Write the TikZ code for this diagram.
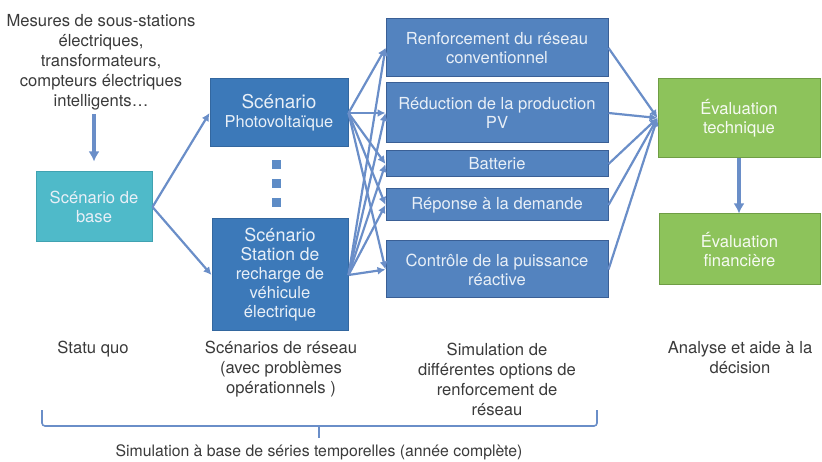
\documentclass[tikz,border=0pt]{standalone}
\usepackage{fontspec}
\setmainfont{TeX Gyre Heros}
\usetikzlibrary{arrows.meta}
\definecolor{scenfill}{HTML}{3C79B9}
\definecolor{scendraw}{HTML}{33679F}
\definecolor{optfill}{HTML}{5383BF}
\definecolor{optdraw}{HTML}{3A5F95}
\definecolor{basefill}{HTML}{4FBAC9}
\definecolor{basedraw}{HTML}{40A2B1}
\definecolor{greenfill}{HTML}{8DC35B}
\definecolor{greendraw}{HTML}{6F9D45}
\definecolor{boxtext}{HTML}{E8EFF7}
\definecolor{linec}{HTML}{6A8EC8}
\definecolor{dotc}{HTML}{5E8CC6}
\definecolor{labeltext}{HTML}{3A3A3A}
\begin{document}
\begin{tikzpicture}[x=1pt,y=-1pt,
  box/.style={line width=1pt, text=boxtext, align=center, inner sep=0pt, font=\fontsize{16.6}{19}\selectfont},
  scen/.style={box, fill=scenfill, draw=scendraw},
  opt/.style={box, fill=optfill, draw=optdraw, minimum width=222pt},
  basebox/.style={box, fill=basefill, draw=basedraw},
  evalbox/.style={box, fill=greenfill, draw=greendraw, text=white!92!greenfill},
  conn/.style={draw=linec, line width=2.2pt, -{Latex[length=8pt,width=8pt]}},
  thickarrow/.style={draw=linec, line width=3.5pt, -{Latex[length=10pt,width=11pt]}},
  lbl/.style={text=labeltext, align=center, inner sep=0pt, font=\fontsize{16.6}{20}\selectfont},
  dotsq/.style={fill=dotc, minimum size=9pt, inner sep=0pt}
]
\useasboundingbox (0,0) rectangle (822,462);

% top text
\node[lbl, anchor=north] (meas) at (101,14) {Mesures de sous-stations\\électriques,\\transformateurs,\\compteurs électriques\\intelligents\ldots};

% boxes
\node[basebox, minimum width=116pt, minimum height=70pt] (base) at (94,207) {Scénario de\\base};
\node[scen, minimum width=138pt, minimum height=68pt] (pv) at (279,113)
  {\fontsize{19}{22}\selectfont Scénario\\\fontsize{16.4}{20}\selectfont Photovoltaïque};
\node[scen, minimum width=136pt, minimum height=112pt] (ev) at (280,275)
  {\fontsize{18}{17.5}\selectfont Scénario\\\fontsize{17.5}{17.5}\selectfont Station de\\recharge de\\véhicule\\électrique};

\node[dotsq] (d1) at (276,165) {};
\node[dotsq] (d2) at (276,184) {};
\node[dotsq] (d3) at (276,203) {};

\node[opt, minimum height=58pt] (r1) at (497,48) {Renforcement du réseau\\conventionnel};
\node[opt, minimum height=60pt] (r2) at (497,113) {Réduction de la production\\PV};
\node[opt, minimum height=26pt] (r3) at (497,164) {Batterie};
\node[opt, minimum height=32pt] (r4) at (497,205) {Réponse à la demande};
\node[opt, minimum height=57pt] (r5) at (497,269.5) {Contrôle de la puissance\\réactive};

\node[evalbox, minimum width=162pt, minimum height=79pt] (tech) at (739,118) {Évaluation\\technique};
\node[evalbox, minimum width=161pt, minimum height=71pt] (fin) at (739.5,249.5) {Évaluation\\financière};

% connectors
\draw[thickarrow, shorten <=4pt, shorten >=10pt] (meas.south -| base.north) -- (base.north);
\draw[conn] (base.east) -- (pv.west);
\draw[conn] (base.east) -- (ev.west);
\foreach \t in {r1,r2,r3,r4,r5} {
  \draw[conn] (pv.east) -- (\t.west);
  \draw[conn] (ev.east) -- (\t.west);
  \draw[conn] (\t.east) -- (tech.west);
}
\draw[thickarrow] (tech.south) -- (tech.south |- fin.north);

% bottom labels
\node[lbl, anchor=north] (l1) at (93,341) {Statu quo};
\node[lbl, anchor=north] (l2) at (281,341) {Scénarios de réseau\\(avec problèmes\\opérationnels )};
\node[lbl, anchor=north] (l3) at (497,343) {Simulation de\\différentes options de\\renforcement de\\réseau};
\node[lbl, anchor=north] (l4) at (740,341) {Analyse et aide à la\\décision};

% brace
\coordinate (bl) at (42,410);
\coordinate (br) at (597,410);
\coordinate (bm) at (319,426);
\coordinate (bt) at (319,438);
\draw[draw=linec, line width=1.6pt, rounded corners=3pt] (bl) |- (bm) -| (br);
\draw[draw=linec, line width=1.6pt] (bm) -- (bt);
\node[lbl, anchor=north, font=\fontsize{15.8}{19}\selectfont] (l5) at (319,444) {Simulation à base de séries temporelles (année complète)};
\end{tikzpicture}
\end{document}
